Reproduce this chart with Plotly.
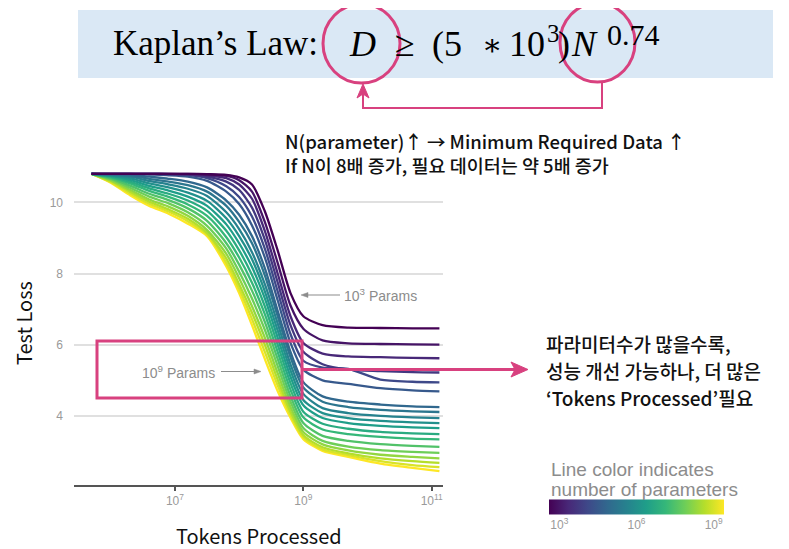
import plotly.graph_objects as go
from plotly.colors import sample_colorscale

# the page puts the figure 8 px from the top-left corner of the window
OFF = 8
W, H = 789 - OFF, 549 - OFF


def X(px):
    return (px - OFF) / W


def Y(py):
    return 1 - (py - OFF) / H


# ---------------- data ----------------
log_tokens = [5.7, 6.0, 6.3, 6.6, 6.9, 7.2, 7.5, 7.8, 8.0, 8.2, 8.4, 8.6, 8.8, 9.0, 9.3, 9.7, 10.2, 10.7, 11.12]
param_exponents = [3.0, 3.33, 3.67, 4.0, 4.33, 4.67, 5.0, 5.33, 5.67, 6.0,
                   6.33, 6.67, 7.0, 7.33, 7.67, 8.0, 8.33, 8.67, 9.0]

loss_01 = [10.8, 10.8, 10.8, 10.8, 10.8, 10.8, 10.79, 10.77, 10.7, 10.5, 9.75, 8.65, 7.45, 6.8, 6.55, 6.48, 6.47, 6.46, 6.46]
loss_02 = [10.8, 10.8, 10.8, 10.8, 10.8, 10.8, 10.78, 10.74, 10.62, 10.3, 9.45, 8.3, 7.1, 6.45, 6.12, 6.04, 6.02, 6.01, 6.0]
loss_03 = [10.8, 10.8, 10.8, 10.8, 10.8, 10.79, 10.76, 10.68, 10.5, 10.1, 9.2, 8.0, 6.8, 6.05, 5.75, 5.67, 5.65, 5.63, 5.62]
loss_04 = [10.8, 10.8, 10.8, 10.8, 10.79, 10.78, 10.72, 10.58, 10.35, 9.85, 8.95, 7.75, 6.55, 5.8, 5.45, 5.3, 5.26, 5.23, 5.22]
loss_05 = [10.8, 10.8, 10.8, 10.8, 10.79, 10.77, 10.68, 10.45, 10.15, 9.6, 8.7, 7.5, 6.3, 5.55, 5.36, 5.32, 5.02, 4.96, 4.94]
loss_06 = [10.8, 10.8, 10.8, 10.78, 10.76, 10.72, 10.6, 10.3, 9.95, 9.35, 8.45, 7.25, 6.05, 5.3, 5.0, 4.9, 4.78, 4.72, 4.69]
loss_07 = [10.8, 10.79, 10.78, 10.72, 10.66, 10.58, 10.42, 10.05, 9.65, 9.05, 8.15, 6.95, 5.8, 4.95, 4.55, 4.4, 4.32, 4.27, 4.25]
loss_08 = [10.8, 10.78, 10.75, 10.66, 10.58, 10.48, 10.3, 9.9, 9.45, 8.85, 7.95, 6.8, 5.65, 4.8, 4.4, 4.25, 4.17, 4.13, 4.11]
loss_09 = [10.8, 10.77, 10.72, 10.6, 10.5, 10.38, 10.18, 9.72, 9.25, 8.6, 7.7, 6.6, 5.45, 4.62, 4.22, 4.08, 4.0, 3.96, 3.94]
loss_10 = [10.8, 10.76, 10.68, 10.53, 10.42, 10.27, 10.04, 9.55, 9.05, 8.4, 7.5, 6.4, 5.28, 4.45, 4.08, 3.94, 3.86, 3.82, 3.80]
loss_11 = [10.8, 10.74, 10.63, 10.46, 10.33, 10.16, 9.9, 9.38, 8.85, 8.18, 7.3, 6.2, 5.1, 4.3, 3.94, 3.8, 3.72, 3.68, 3.66]
loss_12 = [10.8, 10.72, 10.58, 10.39, 10.24, 10.05, 9.76, 9.2, 8.65, 7.96, 7.08, 6.0, 4.92, 4.12, 3.78, 3.64, 3.55, 3.51, 3.49]
loss_13 = [10.8, 10.7, 10.53, 10.32, 10.15, 9.94, 9.62, 9.02, 8.45, 7.74, 6.86, 5.8, 4.74, 3.96, 3.62, 3.49, 3.41, 3.36, 3.34]
loss_14 = [10.8, 10.67, 10.47, 10.24, 10.06, 9.83, 9.48, 8.85, 8.25, 7.52, 6.64, 5.6, 4.56, 3.8, 3.44, 3.3, 3.21, 3.16, 3.13]
loss_15 = [10.8, 10.65, 10.41, 10.16, 9.97, 9.72, 9.34, 8.7, 8.05, 7.3, 6.42, 5.4, 4.4, 3.66, 3.3, 3.14, 3.04, 2.99, 2.96]
loss_16 = [10.8, 10.62, 10.35, 10.08, 9.88, 9.62, 9.22, 8.55, 7.87, 7.08, 6.2, 5.2, 4.25, 3.55, 3.2, 3.03, 2.91, 2.85, 2.81]
loss_17 = [10.8, 10.6, 10.3, 10.02, 9.8, 9.54, 9.14, 8.42, 7.7, 6.9, 6.0, 5.02, 4.12, 3.46, 3.12, 2.95, 2.81, 2.73, 2.68]
loss_18 = [10.8, 10.57, 10.25, 9.96, 9.74, 9.47, 9.1, 8.3, 7.57, 6.72, 5.8, 4.86, 4.03, 3.4, 3.06, 2.9, 2.73, 2.62, 2.56]
loss_19 = [10.8, 10.55, 10.2, 9.9, 9.68, 9.4, 9.05, 8.2, 7.45, 6.55, 5.6, 4.7, 3.95, 3.35, 3.02, 2.85, 2.66, 2.54, 2.45]

curves = [loss_01, loss_02, loss_03, loss_04, loss_05, loss_06, loss_07, loss_08, loss_09, loss_10,
          loss_11, loss_12, loss_13, loss_14, loss_15, loss_16, loss_17, loss_18, loss_19]

y_ticks = [4, 6, 8, 10]
x_tick_exponents = [7, 9, 11]
cbar_tick_exponents = [3, 6, 9]

# ---------------- figure ----------------
tokens = [10 ** g for g in log_tokens]
colors = sample_colorscale("Viridis", [(p - 3) / 6 for p in param_exponents])

fig = go.Figure()
for loss, col in reversed(list(zip(curves, colors))):
    fig.add_trace(go.Scatter(
        x=tokens, y=loss, mode="lines",
        line=dict(color=col, width=2.3, shape="spline", smoothing=0.7),
        hoverinfo="skip", showlegend=False,
    ))

# dummy trace for the colour legend
fig.add_trace(go.Scatter(
    x=[None], y=[None], mode="markers", showlegend=False, hoverinfo="skip",
    marker=dict(
        color=[6], colorscale="Viridis", cmin=2.6, cmax=9.4, showscale=True,
        colorbar=dict(
            orientation="h", x=X(636.5), xanchor="center", y=Y(514.5), yanchor="middle",
            len=175, lenmode="pixels", thickness=15, thicknessmode="pixels",
            tickvals=cbar_tick_exponents,
            ticktext=["10<sup>%d</sup>" % e for e in cbar_tick_exponents],
            ticks="", outlinewidth=0, xpad=0, ypad=0,
            tickfont=dict(family="Liberation Sans", size=12, color="#9a9a9a"),
        ),
    ),
))

PINK = "#d8417f"
GRAY = "#8c8c8c"

shapes = []
# header band
shapes.append(dict(type="rect", xref="paper", yref="paper", x0=X(78), x1=X(773), y0=Y(78), y1=Y(10),
                   fillcolor="#dae8f5", line=dict(width=0), layer="below"))
# circles
shapes.append(dict(type="circle", xref="paper", yref="paper", x0=X(323), x1=X(400), y0=Y(83), y1=Y(4),
                   line=dict(color=PINK, width=3)))
shapes.append(dict(type="circle", xref="paper", yref="paper", x0=X(560), x1=X(635), y0=Y(82), y1=Y(3),
                   line=dict(color=PINK, width=3)))
# connector from N circle to D circle
shapes.append(dict(type="path", xref="paper", yref="paper",
                   path="M %f %f L %f %f L %f %f L %f %f" % (X(602), Y(82), X(602), Y(108), X(363), Y(108), X(363), Y(94)),
                   line=dict(color=PINK, width=2)))
shapes.append(dict(type="path", xref="paper", yref="paper",
                   path="M %f %f L %f %f L %f %f L %f %f Z" % (X(363), Y(84), X(357), Y(98), X(363), Y(94), X(369), Y(98)),
                   fillcolor=PINK, line=dict(color=PINK, width=1)))
# pink box inside the plot
shapes.append(dict(type="rect", xref="paper", yref="paper", x0=X(97), x1=X(302), y0=Y(398), y1=Y(341),
                   line=dict(color=PINK, width=3)))
# pink arrow to the right text
shapes.append(dict(type="line", xref="paper", yref="paper", x0=X(303), x1=X(516), y0=Y(369.5), y1=Y(369.5),
                   line=dict(color=PINK, width=3)))
shapes.append(dict(type="path", xref="paper", yref="paper",
                   path="M %f %f L %f %f L %f %f L %f %f Z" % (X(528), Y(369.5), X(511), Y(362), X(515), Y(369.5), X(511), Y(377)),
                   fillcolor=PINK, line=dict(color=PINK, width=1)))
# gray arrows for the "Params" labels
shapes.append(dict(type="line", xref="paper", yref="paper", x0=X(306), x1=X(340), y0=Y(295), y1=Y(295),
                   line=dict(color=GRAY, width=1.2)))
shapes.append(dict(type="path", xref="paper", yref="paper",
                   path="M %f %f L %f %f L %f %f Z" % (X(301), Y(295), X(308), Y(292.5), X(308), Y(297.5)),
                   fillcolor=GRAY, line=dict(color=GRAY, width=0.5)))
shapes.append(dict(type="line", xref="paper", yref="paper", x0=X(221), x1=X(255), y0=Y(371.5), y1=Y(371.5),
                   line=dict(color=GRAY, width=1.2)))
shapes.append(dict(type="path", xref="paper", yref="paper",
                   path="M %f %f L %f %f L %f %f Z" % (X(261), Y(371.5), X(254), Y(369), X(254), Y(374)),
                   fillcolor=GRAY, line=dict(color=GRAY, width=0.5)))

KR = "Noto Sans CJK KR"
SERIF = "Liberation Serif"
anns = []


def txt(text, px, py, size, color="#111111", family=KR, xanchor="left", weight="normal"):
    anns.append(dict(text=text, xref="paper", yref="paper", x=X(px), y=Y(py), xanchor=xanchor,
                     yanchor="middle", showarrow=False,
                     font=dict(family=family, size=size, color=color, weight=weight)))


# header formula
txt("Kaplan’s Law:", 111, 44, 35, family=SERIF, color="#000000")
txt("<i>D</i>", 362, 44, 36, family=SERIF, color="#000000", xanchor="center")
txt("≥", 405, 44, 36, family=SERIF, color="#000000", xanchor="center")
txt("(5", 430, 44, 36, family=SERIF, color="#000000")
txt("∗", 492, 45, 30, family="DejaVu Serif", color="#000000", xanchor="center")
txt("10", 507, 44, 36, family=SERIF, color="#000000")
txt("3", 553, 33, 25, family=SERIF, color="#000000", xanchor="center")
txt(")", 564, 44, 36, family=SERIF, color="#000000", xanchor="center")
txt("<i>N</i>", 569, 44, 36, family=SERIF, color="#000000")
txt("0.74", 605, 35, 30, family=SERIF, color="#000000")

# top explanation
txt("N(parameter)↑ → Minimum Required Data ↑", 283, 141, 18.5, weight=500)
txt("If N이 8배 증가, 필요 데이터는 약 5배 증가", 283, 165, 18.5, weight=500)

# right explanation
txt("파라미터수가 많을수록,", 544, 343, 19, weight=500)
txt("성능 개선 가능하나, 더 많은", 544, 370, 19, weight=500)
txt("‘Tokens Processed’필요", 544, 397, 19, weight=500)

# in-plot labels
txt("10<sup>3</sup> Params", 342, 295, 14, color=GRAY, family="Liberation Sans")
txt("10<sup>9</sup> Params", 217, 371.5, 14, color=GRAY, family="Liberation Sans", xanchor="right")

# colour legend title
txt("Line color indicates", 549, 469, 19, color=GRAY, family="Liberation Sans")
txt("number of parameters", 549, 489, 19, color=GRAY, family="Liberation Sans")

# axis titles
anns.append(dict(text="Test Loss", xref="paper", yref="paper", x=X(23), y=Y(323), textangle=-90,
                 showarrow=False, xanchor="center", yanchor="middle",
                 font=dict(family=KR, size=20, color="#111111")))
txt("Tokens Processed", 259, 535, 20, xanchor="center")

fig.update_layout(
    width=W, height=H,
    margin=dict(l=0, r=0, t=0, b=0),
    paper_bgcolor="white", plot_bgcolor="white",
    shapes=shapes, annotations=anns,
    xaxis=dict(
        type="log", domain=[X(74), X(443)], range=[5.427, 11.176],
        tickvals=[10 ** e for e in x_tick_exponents],
        ticktext=["10<sup>%d</sup>" % e for e in x_tick_exponents],
        ticks="outside", ticklen=4, tickwidth=1.5, tickcolor="#555555",
        showline=True, linecolor="#555555", linewidth=2,
        showgrid=False, zeroline=False,
        tickfont=dict(family="Liberation Sans", size=12, color="#9a9a9a"),
    ),
    yaxis=dict(
        domain=[Y(485), Y(166.7)], range=[2.06, 11.0],
        tickvals=y_ticks, ticktext=[str(v) for v in y_ticks],
        ticks="", showline=False, zeroline=False,
        showgrid=True, gridcolor="#e0e0e0", gridwidth=1.5,
        ticklabelstandoff=10,
        tickfont=dict(family="Liberation Sans", size=12, color="#9a9a9a"),
    ),
)

fig.write_html("out.html")
